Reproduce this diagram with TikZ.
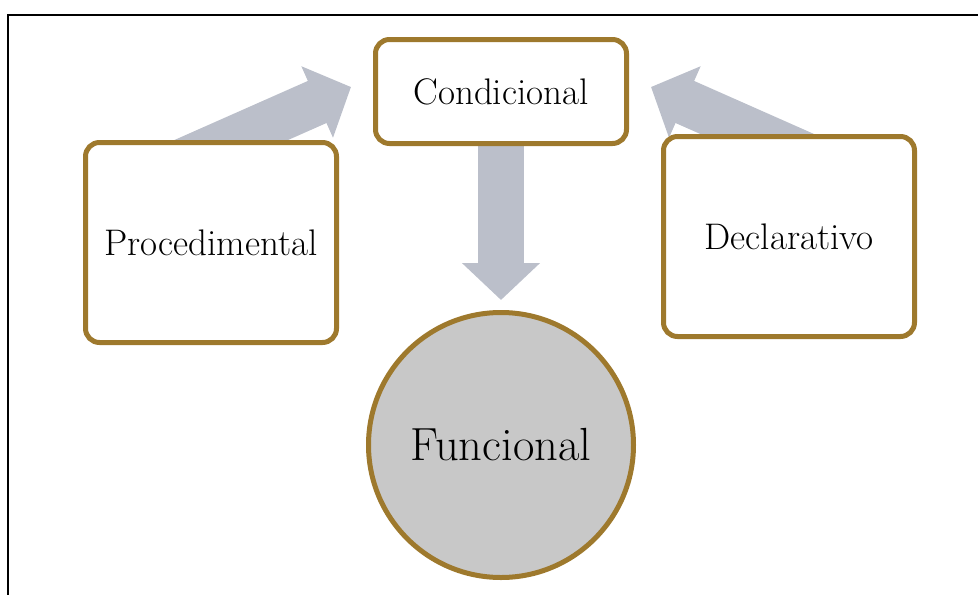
\documentclass[tikz,border=0pt]{standalone}
\usepackage{fontspec}
\usetikzlibrary{arrows.meta,backgrounds}
\definecolor{brownline}{RGB}{158,121,45}
\definecolor{arrowgray}{RGB}{187,191,202}
\definecolor{circfill}{RGB}{200,200,200}
\tikzset{
  box/.style={draw=brownline, line width=5pt, rounded corners=14pt, fill=white,
    minimum width=251pt, inner sep=0pt, font=\fontsize{37}{44}\selectfont},
  circ/.style={circle, draw=brownline, line width=5pt, fill=circfill,
    minimum size=265pt, inner sep=0pt, font=\fontsize{46.5}{54}\selectfont},
  blockarrow/.style={draw=arrowgray, line width=46pt, line cap=butt,
    -{Triangle[width=76pt,length=37pt,fill=arrowgray]}},
}
\begin{document}
\begin{tikzpicture}[x=1pt,y=-1pt]
\useasboundingbox (0,0) rectangle (978,595);
\draw[line width=1.5pt] (978,15) -- (8,15) -- (8,595);
\node[box, minimum height=104pt] (cond) at (501,91.5) {Condicional};
\node[box, minimum height=200pt] (proc) at (211,242.5) {Procedimental};
\node[box, minimum height=200pt] (decl) at (789,236.5) {Declarativo};
\node[circ] (func) at (501,445) {Funcional};
\coordinate (tailL) at (168,168);
\coordinate (tipL) at (351,87);
\coordinate (tailR) at (834,168);
\coordinate (tipR) at (651,87);
\coordinate (tipD) at (501,300);
\begin{scope}[on background layer]
\draw[blockarrow] (tailL) -- (tipL);
\draw[blockarrow] (tailR) -- (tipR);
\draw[blockarrow] (cond.center) -- (tipD);
\end{scope}
\end{tikzpicture}
\end{document}
